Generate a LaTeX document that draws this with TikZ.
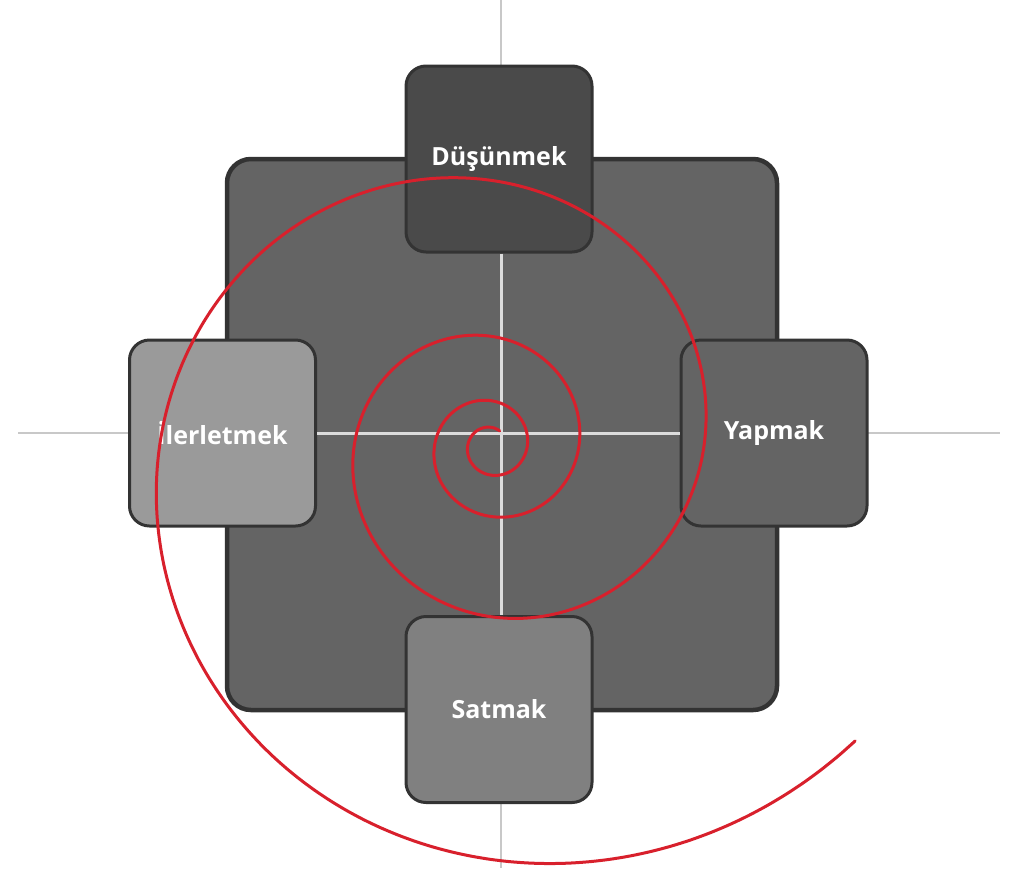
\documentclass[tikz,border=0pt]{standalone}
\usepackage{fontspec}
\setmainfont{Open Sans}
\definecolor{axisout}{HTML}{C8C8C8}
\definecolor{axisin}{HTML}{DCDCDC}
\definecolor{bigfill}{HTML}{646464}
\definecolor{edge}{HTML}{333333}
\definecolor{fillA}{HTML}{4A4A4A}
\definecolor{fillB}{HTML}{9A9A9A}
\definecolor{fillC}{HTML}{646464}
\definecolor{fillD}{HTML}{808080}
\definecolor{spiralred}{HTML}{D8202C}
\tikzset{
  phase/.style={draw=edge, line width=3pt, rounded corners=20pt, minimum width=186pt, minimum height=186pt,
    inner sep=0pt, text=white, font=\fontsize{25}{30}\selectfont\bfseries},
  axisline/.style={draw=axisout, line width=2pt},
  innerline/.style={draw=axisin, line width=3pt},
  spiral/.style={draw=spiralred, line width=3pt, line cap=round}
}
\begin{document}
\begin{tikzpicture}[x=1pt,y=-1pt]
\useasboundingbox (0,0) rectangle (1024,868);
% axes
\coordinate (vt) at (501,0);
\coordinate (vb) at (501,868);
\coordinate (hl) at (18,433);
\coordinate (hr) at (1000,433);
\draw[axisline] (vt) -- (vb);
\draw[axisline] (hl) -- (hr);
% big square
\node[draw=edge, line width=4.5pt, fill=bigfill, rounded corners=24pt, minimum width=550pt, minimum height=551pt, inner sep=0pt] (sq) at (502,434.5) {};
% boxes
\node[phase, fill=fillA] (dus) at (499,159) {Düşünmek};
\node[phase, fill=fillB] (ile) at (222.5,433) {İlerletmek};
\node[phase, fill=fillC] (yap) at (774,433) {Yapmak};
\node[phase, fill=fillD] (sat) at (499,709.5) {Satmak};
% inner cross
\draw[innerline] (dus.south -| vt) -- (sat.north -| vt);
\draw[innerline] (ile.east |- hl) -- (yap.west |- hl);
% spiral
\draw[spiral] plot[domain=60:1401, samples=500, smooth, variable=\t]
  ({491+15*exp(0.0024609*\t)*cos(\t)}, {446-15*exp(0.0024609*\t)*sin(\t)});
\end{tikzpicture}
\end{document}
